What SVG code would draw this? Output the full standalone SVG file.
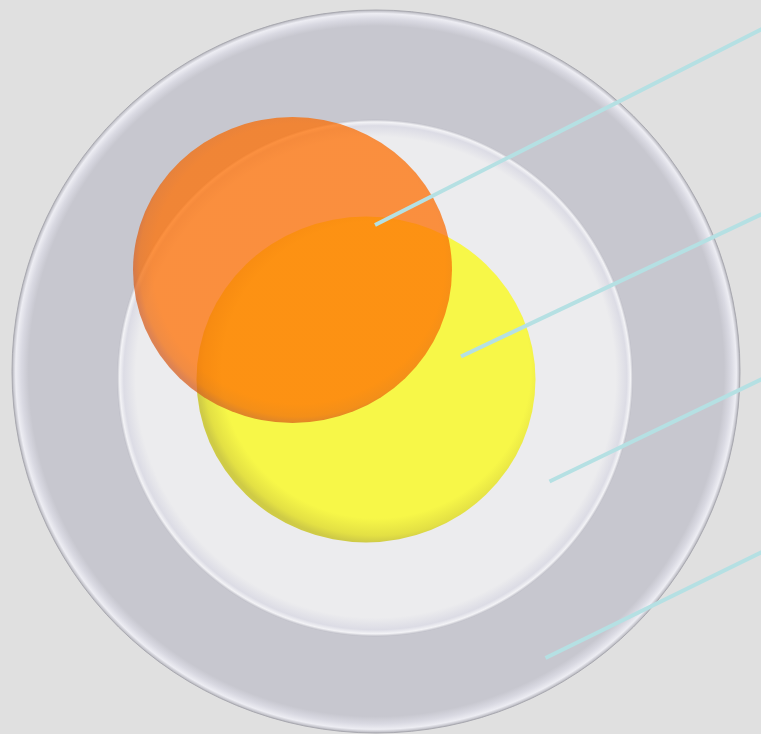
<svg xmlns="http://www.w3.org/2000/svg" width="761" height="734" viewBox="0 0 761 734">
  <defs>
    <radialGradient id="gOuter" cx="0.5" cy="0.5" r="0.5" fx="0.51" fy="0.49">
      <stop offset="0" stop-color="#c7c7cf"/>
      <stop offset="0.955" stop-color="#c7c7cf"/>
      <stop offset="0.975" stop-color="#d9d9e2"/>
      <stop offset="0.99" stop-color="#ededf3"/>
      <stop offset="1" stop-color="#b4b4bc"/>
    </radialGradient>
    <radialGradient id="gInner" cx="0.5" cy="0.5" r="0.5" fx="0.52" fy="0.48">
      <stop offset="0" stop-color="#ececee"/>
      <stop offset="0.93" stop-color="#ececee"/>
      <stop offset="0.975" stop-color="#dcdce5"/>
      <stop offset="0.99" stop-color="#f3f3f6"/>
      <stop offset="1" stop-color="#bdbdc6"/>
    </radialGradient>
    <radialGradient id="gYellow" cx="0.53" cy="0.47" r="0.53">
      <stop offset="0" stop-color="#f7f748"/>
      <stop offset="0.86" stop-color="#f7f748"/>
      <stop offset="0.96" stop-color="#e3e044"/>
      <stop offset="1" stop-color="#cfcb46"/>
    </radialGradient>
    <radialGradient id="gOrange" cx="0.52" cy="0.48" r="0.52">
      <stop offset="0" stop-color="#ff6e00"/>
      <stop offset="0.88" stop-color="#ff6e00"/>
      <stop offset="0.96" stop-color="#f26a08"/>
      <stop offset="1" stop-color="#d85e1c"/>
    </radialGradient>
    <style>
      .conn { stroke: #b5e0e3; stroke-width: 4; fill: none; }
    </style>
  </defs>
  <rect width="761" height="734" fill="#e0e0e0"/>
  <g id="outer-ring">
    <ellipse cx="376" cy="371.5" rx="364" ry="361.5" fill="url(#gOuter)" stroke="#a9a9b0" stroke-width="1"/>
  </g>
  <g id="inner-circle">
    <ellipse cx="375" cy="378" rx="258" ry="258.5" fill="url(#gInner)"/>
  </g>
  <g id="yellow-circle">
    <ellipse cx="366" cy="379.5" rx="169.5" ry="163" fill="url(#gYellow)"/>
  </g>
  <g id="orange-circle">
    <ellipse cx="292.5" cy="270" rx="159.5" ry="153" fill="url(#gOrange)" opacity="0.74"/>
  </g>
  <g id="connectors">
    <line class="conn" x1="375" y1="225" x2="762" y2="29"/>
    <line class="conn" x1="461" y1="356.5" x2="762" y2="214"/>
    <line class="conn" x1="549.5" y1="481.5" x2="762" y2="379"/>
    <line class="conn" x1="545.5" y1="658" x2="762" y2="552"/>
  </g>
</svg>
